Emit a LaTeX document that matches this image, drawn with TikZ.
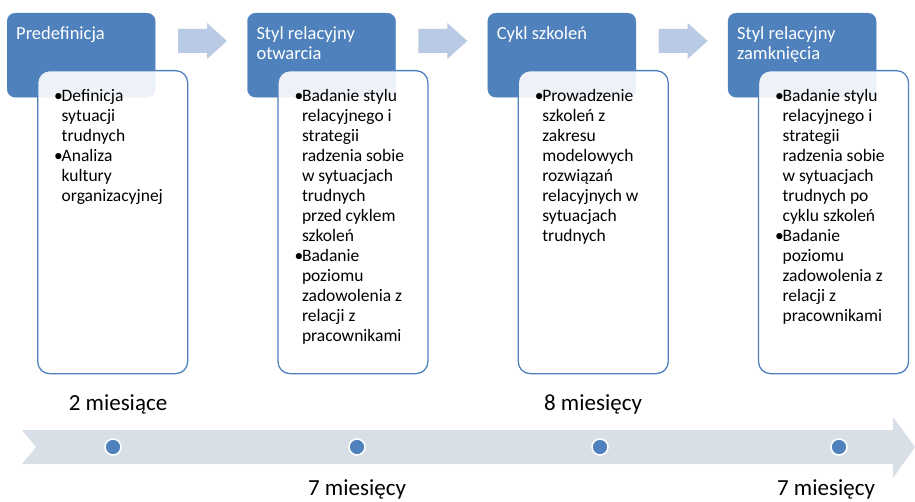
\documentclass[tikz,border=0pt]{standalone}
\usepackage{fontspec}
\setmainfont{Carlito}

\definecolor{stageblue}{RGB}{79,129,189}
\definecolor{arrowblue}{RGB}{185,203,228}
\definecolor{bandgray}{RGB}{217,223,231}

\tikzset{
  titlebox/.style={rectangle, rounded corners=8pt, fill=stageblue, draw=stageblue,
                   minimum width=148pt, minimum height=84pt, inner sep=0pt, anchor=north west},
  titletext/.style={font=\fontsize{18.5}{20}\selectfont, text=white, align=left,
                    inner sep=0pt, anchor=north west},
  cardbox/.style={rectangle, rounded corners=12pt, fill=white, fill opacity=0.9,
                  draw=stageblue, line width=1.3pt, minimum width=150pt, minimum height=303pt,
                  inner sep=0pt, anchor=north west},
  cardtext/.style={font=\fontsize{17.5}{20}\selectfont, inner sep=0pt, anchor=north west},
  dot/.style={circle, fill=stageblue, draw=white, line width=1.5pt, minimum size=16pt, inner sep=0pt},
  timelabel/.style={font=\fontsize{23}{26}\selectfont, inner sep=0pt}
}

\newcommand{\bulletitem}[1]{\makebox[7.5pt][l]{\textbullet}\begin{tabular}[t]{@{}l@{}}#1\end{tabular}}

\begin{document}
\begin{tikzpicture}[x=1pt, y=-1pt]
    % Parameters
    \def\boxgap{240.3} % Distance between two stages
    \def\boxleft{7} % Left edge of the first stage
    \useasboundingbox (0,0) rectangle (915,502);

    % Draw the blue title boxes
    \foreach \i/\title in {0/Predefinicja, 1/{Styl relacyjny\\otwarcia}, 2/{Cykl szkoleń}, 3/{Styl relacyjny\\zamknięcia}} {
        \pgfmathsetmacro{\xpos}{\boxleft + \i*\boxgap}
        \node[titlebox] (stage\i) at (\xpos, 13) {};
        \node[titletext] (title\i) at ([shift={(9,12)}]stage\i.north west) {\strut\title};
    }

    % Add arrows between the stages
    \foreach \i in {0,1,2} {
        \pgfmathsetmacro{\xstart}{\boxleft + \i*\boxgap + 171}
        \fill[arrowblue] (\xstart, 29) -- ++(29, 0) -- ++(0, -6) -- ++(20, 18) -- ++(-20, 18) -- ++(0, -6) -- ++(-29, 0) -- cycle;
    }

    % Draw the white cards in front of the title boxes
    \foreach \i in {0,...,3} {
        \node[cardbox] (card\i) at ([shift={(30,57)}]stage\i.north west) {};
    }

    % Add the bullet lists
    \node[cardtext] (list0) at ([shift={(17,17)}]card0.north west) {%
        \begin{tabular}{@{}l@{}}
        \bulletitem{Definicja\\sytuacji\\trudnych}\\[5pt]
        \bulletitem{Analiza\\kultury\\organizacyjnej}
        \end{tabular}};
    \node[cardtext] (list1) at ([shift={(17,17)}]card1.north west) {%
        \begin{tabular}{@{}l@{}}
        \bulletitem{Badanie stylu\\relacyjnego i\\strategii\\radzenia sobie\\w sytuacjach\\trudnych\\przed cyklem\\szkoleń}\\[5pt]
        \bulletitem{Badanie\\poziomu\\zadowolenia z\\relacji z\\pracownikami}
        \end{tabular}};
    \node[cardtext] (list2) at ([shift={(17,17)}]card2.north west) {%
        \begin{tabular}{@{}l@{}}
        \bulletitem{Prowadzenie\\szkoleń z\\zakresu\\modelowych\\rozwiązań\\relacyjnych w\\sytuacjach\\trudnych}
        \end{tabular}};
    \node[cardtext] (list3) at ([shift={(17,17)}]card3.north west) {%
        \begin{tabular}{@{}l@{}}
        \bulletitem{Badanie stylu\\relacyjnego i\\strategii\\radzenia sobie\\w sytuacjach\\trudnych po\\cyklu szkoleń}\\[5pt]
        \bulletitem{Badanie\\poziomu\\zadowolenia z\\relacji z\\pracownikami}
        \end{tabular}};

    % Draw the timeline arrow
    \fill[bandgray] (22, 430) -- (893, 430) -- (893, 417) -- (915, 447) -- (893, 478) -- (893, 464) -- (22, 464) -- (36, 447) -- cycle;

    % Add the dots on the timeline
    \foreach \i/\xdot in {0/113, 1/357, 2/600, 3/839} {
        \node[dot] (dot\i) at (\xdot, 447) {};
    }

    % Add the durations
    \node[timelabel] (months0) at (118, 404) {2 miesiące};
    \node[timelabel] (months1) at (357, 489) {7 miesięcy};
    \node[timelabel] (months2) at (593, 404) {8 miesięcy};
    \node[timelabel] (months3) at (826, 489) {7 miesięcy};
\end{tikzpicture}
\end{document}
